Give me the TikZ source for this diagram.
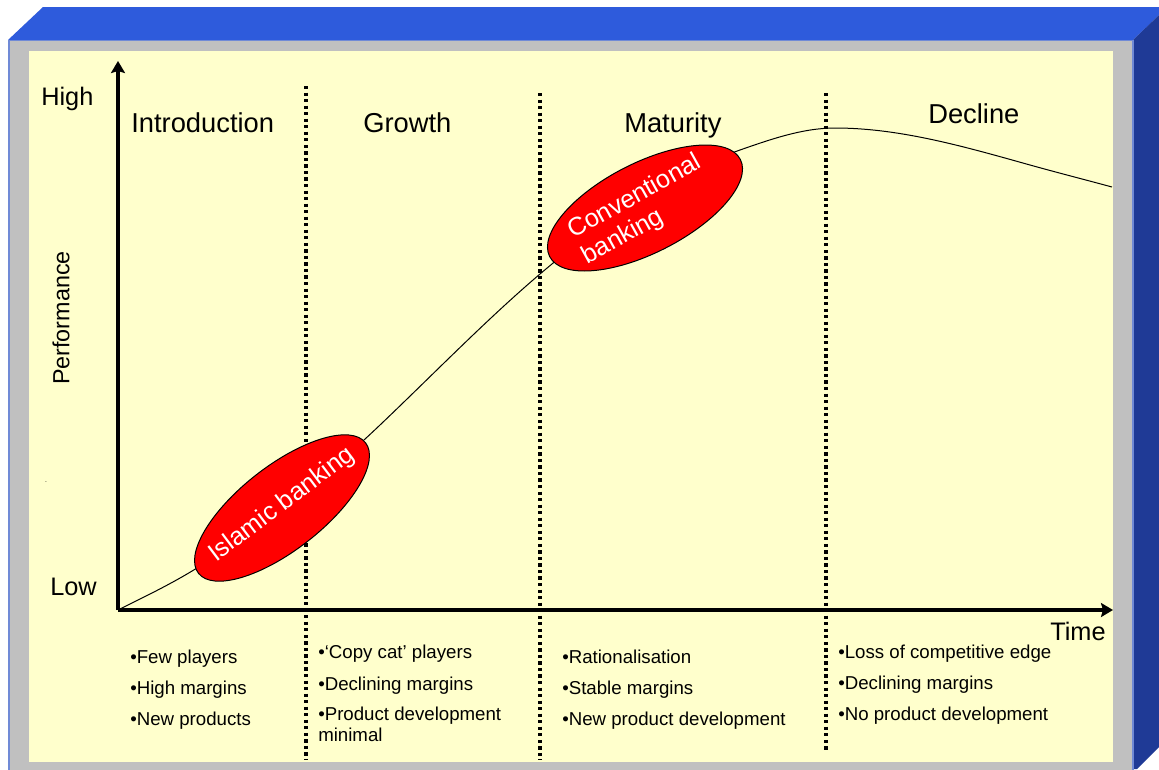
\documentclass[tikz,border=0pt]{standalone}
\usepackage{fontspec}
\setmainfont{Liberation Sans}
\usetikzlibrary{arrows.meta,shapes.geometric}

\begin{document}
\begin{tikzpicture}[x=0.75pt,y=0.75pt,yscale=-1,xscale=1,
  axis/.style={line width=3pt,-{Stealth[length=9pt,width=10.5pt,inset=1.5pt]}},
  phase/.style={line width=2.6pt,dash pattern=on 2.4pt off 2.5pt},
  blob/.style={ellipse,draw=black,line width=0.75pt,fill=red,inner sep=0pt},
  blobtext/.style={text=white,font=\fontsize{19}{22}\selectfont,align=left,inner sep=0pt},
  stage/.style={anchor=base west,inner sep=0pt,font=\fontsize{20.5}{24}\selectfont},
  level/.style={anchor=base west,inner sep=0pt,font=\fontsize{19}{22}\selectfont},
  note/.style={anchor=base west,inner sep=0pt,font=\fontsize{14}{16}\selectfont}]
\useasboundingbox (0,0) rectangle (1159,769);

%Shape: top face
\fill [color={rgb, 255:red, 46; green, 91; blue, 220 }] (8,40) -- (43,7) -- (1159,7) -- (1159,15) -- (1133,40) -- cycle ;
%Shape: right face
\fill [color={rgb, 255:red, 31; green, 58; blue, 150 }] (1133,40) -- (1159,15) -- (1159,747) -- (1137,769) -- (1133,769) -- cycle ;
%Shape: frame
\draw [draw={rgb, 255:red, 112; green, 138; blue, 214 }, fill={rgb, 255:red, 192; green, 192; blue, 192 }, line width=1.2pt] (9,40.5) rectangle (1133,775) ;
%Shape: panel
\fill [color={rgb, 255:red, 255; green, 255; blue, 204 }] (29,51) rectangle (1113,762) ;

%Phase borders
\coordinate (b1top) at (306,86) ; \coordinate (b1bot) at (306,760) ;
\coordinate (b2top) at (540,93) ; \coordinate (b2bot) at (540,760) ;
\coordinate (b3top) at (826,93) ; \coordinate (b3bot) at (826,750) ;
\draw [phase] (b1top) -- (b1bot) ;
\draw [phase] (b2top) -- (b2bot) ;
\draw [phase] (b3top) -- (b3bot) ;

%Curve
\draw [line width=0.75pt] (118,610) .. controls (144.3,596.8) and (170.7,584.3) .. (197,568) .. controls (258,530.2) and (319,483) .. (380,425) .. controls (433.3,374.3) and (486.7,319.3) .. (540,274) .. controls (606.7,217.3) and (673.3,173.3) .. (740,150) .. controls (771.7,138.9) and (803.3,128) .. (835,128) .. controls (900,128) and (965,146.8) .. (1030,165) .. controls (1057.3,172.6) and (1084.7,179.6) .. (1112,187) ;

%Axes
\coordinate (origin) at (118,610) ;
\coordinate (ytip) at (118,61) ;
\coordinate (xtip) at (1113,610) ;
\draw [axis] (origin) -- (ytip) ;
\draw [axis] (origin) -- (xtip) ;

%Ellipses
\node (islamic) [blob, rotate=38, minimum width=159pt, minimum height=63pt] at (282,508) {} ;
\node (islamictext) [blobtext, rotate=37] at (282,505) {Islamic banking} ;
\node (conventional) [blob, rotate=27, minimum width=160.5pt, minimum height=67.5pt] at (645,208) {} ;
\node (conventionaltext) [blobtext, rotate=29] at (642,210) {Conventional\\banking} ;

% Text Node
\node (high) [level] at (41,105) {High} ;
\node (low) [level] at (50,595) {Low} ;
\node (time) [level] at (1050,640) {Time} ;
\node (perf) [rotate=90, inner sep=0pt, font=\fontsize{17.5}{20}\selectfont] at (61,318) {Performance} ;
\node (speck) [inner sep=0pt, font=\tiny] at (46,482) {.} ;

% Text Node
\node (intro) [stage] at (131,132) {Introduction} ;
\node (growth) [stage] at (363,132) {Growth} ;
\node (maturity) [stage] at (624,132) {Maturity} ;
\node (decline) [stage] at (928,123) {Decline} ;

% Text Node
\node (intro1) [note] at (130,663) {•Few players} ;
\node (intro2) [note] at (130,694) {•High margins} ;
\node (intro3) [note] at (130,725) {•New products} ;
\node (growth1) [note] at (318,658) {•`Copy cat' players} ;
\node (growth2) [note] at (318,690) {•Declining margins} ;
\node (growth3) [note] at (318,720) {•Product development} ;
\node (growth4) [note] at (318,741) {minimal} ;
\node (maturity1) [note] at (562,663) {•Rationalisation} ;
\node (maturity2) [note] at (562,694) {•Stable margins} ;
\node (maturity3) [note] at (562,725) {•New product development} ;
\node (decline1) [note] at (838,658) {•Loss of competitive edge} ;
\node (decline2) [note] at (838,689) {•Declining margins} ;
\node (decline3) [note] at (838,720) {•No product development} ;
\end{tikzpicture}
\end{document}
